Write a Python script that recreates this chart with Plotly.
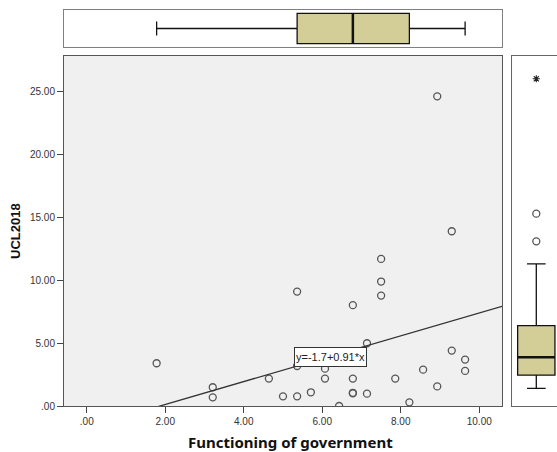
import numpy as np
import plotly.graph_objects as go

# ---- data ----
gov_function = [8.93, 9.30, 7.50, 7.50, 7.50, 5.36, 6.78, 7.14, 1.78, 9.30,
                9.64, 9.64, 8.57, 8.93, 8.22, 7.86, 6.78, 6.78, 6.78, 7.14,
                6.43, 6.07, 6.07, 5.36, 5.71, 5.36, 5.00, 4.64, 3.21, 3.21]
ucl2018 = [24.63, 13.90, 11.70, 9.90, 8.78, 9.10, 8.02, 4.99, 3.40, 4.41,
           3.69, 2.79, 2.89, 1.56, 0.29, 2.18, 2.18, 1.00, 1.05, 0.98,
           0.00, 2.97, 2.18, 3.18, 1.09, 0.77, 0.77, 2.18, 1.49, 0.69]
intercept = -1.7
slope = 0.91
fit_label = "y=-1.7+0.91*x"
x_tick_vals = [0, 2, 4, 6, 8, 10]
x_tick_labels = [".00", "2.00", "4.00", "6.00", "8.00", "10.00"]
y_tick_vals = [0, 5, 10, 15, 20, 25]
y_tick_labels = [".00", "5.00", "10.00", "15.00", "20.00", "25.00"]
x_title = "Functioning of government"
y_title = "UCL2018"

W, H = 557, 452
X_RANGE = [-0.58, 10.58]
Y_RANGE = [0.0, 27.84]
Y_RANGE_BOX = [-1.40, 26.44]

BOX_FILL = "#D3CE98"
PT_COLOR = "#555555"
FONT = "Liberation Sans, Arial, sans-serif"
TITLE_FONT = "Noto Sans, Liberation Sans, sans-serif"


def tukey_stats(vals):
    v = np.sort(np.asarray(vals, dtype=float))
    n = len(v)
    med = float(np.median(v))
    half = n // 2 if n % 2 == 0 else (n + 1) // 2
    q1 = float(np.median(v[:half]))
    q3 = float(np.median(v[n - half:]))
    iqr = q3 - q1
    lo_f, hi_f = q1 - 1.5 * iqr, q3 + 1.5 * iqr
    lo_e, hi_e = q1 - 3 * iqr, q3 + 3 * iqr
    inside = v[(v >= lo_f) & (v <= hi_f)]
    outl = v[((v < lo_f) & (v >= lo_e)) | ((v > hi_f) & (v <= hi_e))]
    extr = v[(v < lo_e) | (v > hi_e)]
    return dict(q1=q1, med=med, q3=q3, lf=float(inside.min()), uf=float(inside.max()),
                out=outl.tolist(), ext=extr.tolist())


sx = tukey_stats(gov_function)
sy = tukey_stats(ucl2018)

fig = go.Figure()

# main scatter
fig.add_trace(go.Scatter(
    x=gov_function, y=ucl2018, mode="markers",
    marker=dict(symbol="circle-open", size=7, color=PT_COLOR, line=dict(width=1.3, color=PT_COLOR)),
    xaxis="x", yaxis="y", showlegend=False, hoverinfo="skip"))

# regression line
lx = np.array(X_RANGE)
fig.add_trace(go.Scatter(
    x=lx, y=intercept + slope * lx, mode="lines",
    line=dict(color="#333333", width=1.3), xaxis="x", yaxis="y",
    showlegend=False, hoverinfo="skip"))

# top marginal box (horizontal)
TOP_W = 1.67
fig.add_trace(go.Box(
    y=[0], q1=[sx["q1"]], median=[sx["med"]], q3=[sx["q3"]],
    lowerfence=[sx["lf"]], upperfence=[sx["uf"]], orientation="h",
    width=TOP_W, whiskerwidth=0.46, fillcolor=BOX_FILL,
    line=dict(color="#111111", width=1.3), boxpoints=False,
    xaxis="x2", yaxis="y2", showlegend=False, hoverinfo="skip"))
fig.add_trace(go.Scatter(
    x=[sx["med"], sx["med"]], y=[-TOP_W / 2, TOP_W / 2], mode="lines",
    line=dict(color="#111111", width=2.5), xaxis="x2", yaxis="y2",
    showlegend=False, hoverinfo="skip"))

# right marginal box (vertical)
R_W = 1.865
fig.add_trace(go.Box(
    x=[0], q1=[sy["q1"]], median=[sy["med"]], q3=[sy["q3"]],
    lowerfence=[sy["lf"]], upperfence=[sy["uf"]], orientation="v",
    width=R_W, whiskerwidth=0.5, fillcolor=BOX_FILL,
    line=dict(color="#111111", width=1.3), boxpoints=False,
    xaxis="x3", yaxis="y3", showlegend=False, hoverinfo="skip"))
fig.add_trace(go.Scatter(
    x=[-R_W / 2, R_W / 2], y=[sy["med"], sy["med"]], mode="lines",
    line=dict(color="#111111", width=2.5), xaxis="x3", yaxis="y3",
    showlegend=False, hoverinfo="skip"))
fig.add_trace(go.Scatter(
    x=[0] * len(sy["out"]), y=sy["out"], mode="markers",
    marker=dict(symbol="circle-open", size=7, color=PT_COLOR, line=dict(width=1.3, color=PT_COLOR)),
    xaxis="x3", yaxis="y3", showlegend=False, hoverinfo="skip"))
fig.add_trace(go.Scatter(
    x=[0] * len(sy["ext"]), y=sy["ext"], mode="markers",
    marker=dict(symbol="asterisk-open", size=6, color="#222222", line=dict(width=1.1, color="#222222")),
    xaxis="x3", yaxis="y3", showlegend=False, hoverinfo="skip"))

main_x_dom = [64 / W, 502 / W]
main_y_dom = [(H - 406) / H, (H - 56) / H]

common = dict(showgrid=False, zeroline=False, automargin=False)
fig.update_layout(
    width=W, height=H, margin=dict(l=0, r=0, t=0, b=0, pad=0),
    paper_bgcolor="white", plot_bgcolor="#F0F0F0",
    font=dict(family=FONT, size=10, color="#333333"),
    xaxis=dict(domain=main_x_dom, range=X_RANGE, anchor="y",
               tickvals=x_tick_vals, ticktext=x_tick_labels,
               ticks="outside", ticklen=6, tickcolor="#444444",
               showline=True, mirror=True, linecolor="#555555", linewidth=1, **common),
    yaxis=dict(domain=main_y_dom, range=Y_RANGE, anchor="x",
               tickvals=y_tick_vals, ticktext=y_tick_labels,
               ticks="outside", ticklen=6, tickcolor="#444444",
               showline=True, mirror=True, linecolor="#555555", linewidth=1, **common),
    xaxis2=dict(domain=main_x_dom, range=X_RANGE, anchor="y2",
                showticklabels=False, ticks="", showline=True, mirror=True,
                linecolor="#808080", linewidth=1, **common),
    yaxis2=dict(domain=[(H - 46.7) / H, (H - 10.3) / H], range=[-1, 1], anchor="x2",
                showticklabels=False, ticks="", showline=True, mirror=True,
                linecolor="#808080", linewidth=1, **common),
    xaxis3=dict(domain=[512.3 / W, 1.0], range=[-1.2, 1.035], anchor="y3",
                showticklabels=False, ticks="", showline=True, mirror=True,
                linecolor="#666666", linewidth=1, **common),
    yaxis3=dict(domain=main_y_dom, range=Y_RANGE_BOX, anchor="x3",
                showticklabels=False, ticks="", showline=True, mirror=True,
                linecolor="#666666", linewidth=1, **common),
)

# white backgrounds for the marginal panels
for ax in ("x2", "x3"):
    yax = "y2" if ax == "x2" else "y3"
    fig.add_shape(type="rect", xref=ax + " domain", yref=yax + " domain",
                  x0=0, x1=1, y0=0, y1=1, fillcolor="white", line=dict(width=0),
                  layer="below")

fig.add_annotation(x=6.2, y=3.9, xref="x", yref="y", text=fit_label, showarrow=False,
                   font=dict(family=FONT, size=11, color="#222222"),
                   bgcolor="white", bordercolor="#333333", borderwidth=1,
                   width=71, height=18, borderpad=0)
fig.add_annotation(x=290 / W, y=(H - 441.5) / H, xref="paper", yref="paper",
                   yanchor="middle", xanchor="center",
                   text="<b>" + x_title + "</b>", showarrow=False,
                   font=dict(family=TITLE_FONT, size=15, color="#111111"))
fig.add_annotation(x=15 / W, y=(H - 231) / H, xref="paper", yref="paper",
                   yanchor="middle", xanchor="center",
                   text="<b>" + y_title + "</b>", showarrow=False, textangle=-90,
                   font=dict(family=FONT, size=13, color="#111111"))

fig.write_html("out.html", config={"displayModeBar": False},
               post_script="document.body.style.margin='0';document.body.style.padding='0';")
